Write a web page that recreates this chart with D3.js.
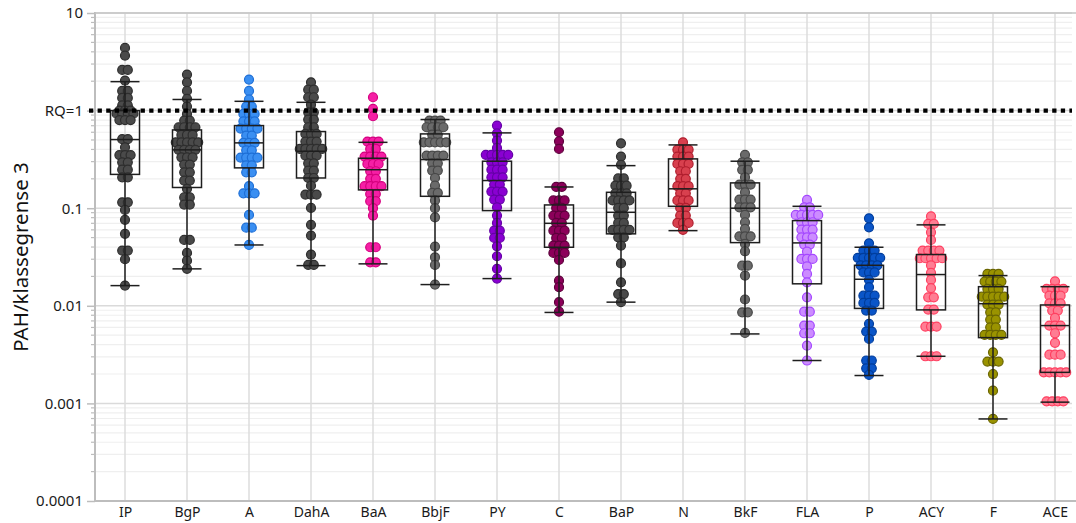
<!DOCTYPE html>
<html><head><meta charset="utf-8">
<script src="https://cdn.jsdelivr.net/npm/d3@7"></script>
<style>body{margin:0;background:#fff}svg{display:block;font-family:"Noto Sans",sans-serif}</style>
</head><body><svg id="c" width="1076" height="523"></svg>
<script>
const categories = ["IP","BgP","A","DahA","BaA","BbjF","PY","C","BaP","N","BkF","FLA","P","ACY","F","ACE"];
const tickValues = [10,1,0.1,0.01,0.001,0.0001];
const tickLabels = ["10","RQ=1","0.1","0.01","0.001","0.0001"];
const rqValue = 1;

const vIP = [4.39,3.66,2.61,2.61,2.03,1.59,1.59,1.35,1.35,1.13,1.13,1.0,1.0,1.0,0.93,0.93,0.93,0.93,0.80,0.80,0.80,0.51,0.51,0.42,0.35,0.35,0.35,0.295,0.295,0.248,0.248,0.207,0.207,0.115,0.115,0.096,0.076,0.0546,0.0368,0.0368,0.030,0.0161];
const vBgP = [2.34,1.95,1.59,1.32,1.10,0.925,0.79,0.79,0.675,0.675,0.675,0.675,0.564,0.564,0.564,0.473,0.473,0.473,0.473,0.473,0.396,0.396,0.396,0.396,0.332,0.332,0.332,0.28,0.28,0.233,0.233,0.192,0.192,0.158,0.129,0.129,0.109,0.109,0.0473,0.0473,0.0348,0.029,0.0239];
const vA = [2.08,1.59,1.30,1.10,1.10,0.925,0.925,0.925,0.777,0.777,0.777,0.654,0.654,0.654,0.654,0.555,0.555,0.467,0.467,0.467,0.392,0.392,0.33,0.33,0.33,0.33,0.275,0.275,0.233,0.233,0.168,0.142,0.142,0.142,0.0853,0.0632,0.0632,0.042];
const vDahA = [1.95,1.64,1.64,1.37,1.37,1.15,0.96,0.96,0.81,0.81,0.675,0.675,0.577,0.577,0.577,0.481,0.481,0.481,0.405,0.405,0.405,0.405,0.405,0.346,0.346,0.346,0.288,0.288,0.243,0.243,0.204,0.204,0.17,0.138,0.138,0.138,0.1006,0.0675,0.0524,0.0335,0.0262,0.0262];
const vBaA = [1.37,1.04,0.875,0.481,0.481,0.481,0.405,0.405,0.338,0.338,0.338,0.338,0.284,0.284,0.284,0.239,0.239,0.2,0.2,0.168,0.168,0.168,0.168,0.14,0.14,0.118,0.118,0.1,0.084,0.0398,0.0398,0.0279,0.0279];
const vBbjF = [0.79,0.79,0.79,0.675,0.675,0.675,0.675,0.568,0.568,0.473,0.473,0.473,0.473,0.473,0.346,0.346,0.346,0.346,0.288,0.288,0.243,0.243,0.204,0.17,0.1435,0.1435,0.12,0.1,0.0807,0.0404,0.0314,0.0262,0.0165];
const vPY = [0.702,0.585,0.493,0.415,0.352,0.352,0.352,0.352,0.352,0.295,0.295,0.295,0.248,0.248,0.248,0.207,0.207,0.207,0.1745,0.1745,0.148,0.148,0.148,0.1225,0.1225,0.102,0.084,0.0707,0.0589,0.0589,0.0496,0.0496,0.0407,0.0322,0.0239,0.019];
const vC = [0.6,0.485,0.405,0.165,0.165,0.12,0.12,0.12,0.1007,0.1007,0.084,0.084,0.084,0.0707,0.0707,0.0589,0.0589,0.0589,0.0496,0.0496,0.0414,0.0414,0.0414,0.0348,0.0348,0.0348,0.0295,0.0181,0.0155,0.0109,0.0087];
const vBaP = [0.462,0.338,0.278,0.202,0.202,0.17,0.17,0.17,0.142,0.142,0.142,0.12,0.12,0.12,0.12,0.1007,0.1007,0.084,0.084,0.0707,0.0707,0.06,0.06,0.06,0.06,0.0503,0.0503,0.0414,0.0272,0.0174,0.0132,0.0132,0.0109];
const vN = [0.473,0.398,0.398,0.398,0.338,0.338,0.338,0.284,0.284,0.284,0.239,0.239,0.2,0.2,0.168,0.168,0.168,0.142,0.142,0.12,0.12,0.12,0.1007,0.1007,0.084,0.084,0.0707,0.0707,0.0707,0.06];
const vBkF = [0.352,0.295,0.295,0.247,0.247,0.207,0.1745,0.1745,0.1745,0.1455,0.1225,0.1225,0.1225,0.102,0.102,0.102,0.0853,0.0718,0.0614,0.0515,0.0515,0.0515,0.0431,0.0362,0.0258,0.0258,0.0204,0.0116,0.00858,0.00858,0.00527];
const vFLA = [0.1216,0.102,0.102,0.0853,0.0853,0.0853,0.0853,0.0853,0.0718,0.0718,0.0718,0.0604,0.0604,0.0604,0.0503,0.0503,0.0503,0.0424,0.0424,0.0359,0.0302,0.0302,0.0302,0.0254,0.0212,0.0174,0.0122,0.0087,0.0087,0.00627,0.00627,0.00523,0.00523,0.0039,0.00275];
const vP = [0.0788,0.0637,0.0437,0.0368,0.0368,0.0368,0.031,0.031,0.031,0.031,0.031,0.026,0.026,0.026,0.026,0.022,0.022,0.022,0.0184,0.0155,0.0127,0.0127,0.0127,0.0107,0.0107,0.0107,0.00893,0.00893,0.00653,0.00544,0.00544,0.00458,0.00275,0.00275,0.00229,0.00229,0.00196];
const vACY = [0.0826,0.069,0.069,0.0566,0.0473,0.0368,0.0368,0.0368,0.0368,0.0307,0.0307,0.0307,0.0307,0.0307,0.026,0.0217,0.0184,0.0152,0.0122,0.0122,0.00914,0.00914,0.00612,0.00612,0.00612,0.00304,0.00304,0.00304];
const vF = [0.0212,0.0212,0.0212,0.0177,0.0177,0.0177,0.0177,0.0149,0.0149,0.0149,0.0124,0.0124,0.0124,0.0124,0.0124,0.0103,0.0103,0.0103,0.00858,0.00858,0.00722,0.00722,0.00602,0.00602,0.00503,0.00503,0.00503,0.00503,0.00334,0.00268,0.00268,0.00268,0.002,0.00135,0.000693];
const vACE = [0.0178,0.0149,0.0149,0.0149,0.0149,0.0127,0.0127,0.0127,0.0106,0.0106,0.0106,0.00893,0.00893,0.00751,0.00627,0.00627,0.00627,0.00523,0.00417,0.00316,0.00316,0.00316,0.00208,0.00208,0.00208,0.00208,0.00208,0.00105,0.00105,0.00105,0.00105];

// box statistics per category (same order as categories)
const q1 = [0.222,0.163,0.259,0.204,0.154,0.1324,0.0945,0.0398,0.0546,0.1046,0.0444,0.0168,0.0094,0.00908,0.00472,0.00208];
const median = [0.505,0.396,0.467,0.383,0.248,0.315,0.192,0.07,0.0908,0.158,0.1,0.0441,0.0187,0.0209,0.0105,0.00627];
const q3 = [1.0,0.634,0.702,0.61,0.325,0.577,0.303,0.108,0.1455,0.32,0.1817,0.0746,0.026,0.0335,0.0157,0.0102];
const whiskerLow = [0.0161,0.0239,0.042,0.0258,0.0269,0.0165,0.019,0.00855,0.0109,0.0589,0.00515,0.00275,0.00193,0.00304,0.000693,0.00103];
const whiskerHigh = [1.98,1.30,1.245,1.216,0.473,0.81,0.591,0.165,0.273,0.445,0.303,0.1046,0.0398,0.0675,0.0204,0.0157];

const seriesValues = [vIP,vBgP,vA,vDahA,vBaA,vBbjF,vPY,vC,vBaP,vN,vBkF,vFLA,vP,vACY,vF,vACE];

// styles
const fills = ["#4a4a4a","#4a4a4a","#3a8ff2","#4a4a4a","#f51fa5","#6a6a6a","#8a00d2","#8c005a","#4a4a4a","#d8404e","#6a6a6a","#cc8cff","#0a55c8","#ff7d93","#9a9300","#ff7d93"];
const strokes = ["#2e2e2e","#2e2e2e","#1e6fd6","#2e2e2e","#d4007f","#474747","#6400a6","#5c003b","#2e2e2e","#b01e2e","#474747","#a447ff","#003d9c","#ff3f60","#6a6500","#ff3f60"];

const W = 1076, H = 523;
const pL = 95, pR = 1072, pT = 13, pB = 501;
const svg = d3.select("#c");

const y = d3.scaleLog().domain([0.0001, 10]).range([pB, pT]);
const x = d3.scalePoint().domain(categories).range([125, 1055]);

// minor gridlines
const minors = [];
for (let e = -4; e < 1; e++) for (let m = 2; m <= 9; m++) minors.push(m * Math.pow(10, e));
svg.append("g").selectAll("line").data(minors).join("line")
  .attr("x1", pL).attr("x2", pR).attr("y1", d => y(d)).attr("y2", d => y(d))
  .attr("stroke", "#efefef").attr("stroke-width", 1.2);
// major gridlines
svg.append("g").selectAll("line").data(tickValues).join("line")
  .attr("x1", pL).attr("x2", pR).attr("y1", d => y(d)).attr("y2", d => y(d))
  .attr("stroke", "#dadada").attr("stroke-width", 1.5);
// vertical gridlines
svg.append("g").selectAll("line").data(categories).join("line")
  .attr("x1", d => x(d)).attr("x2", d => x(d)).attr("y1", pT).attr("y2", pB)
  .attr("stroke", "#dcdcdc").attr("stroke-width", 1.5);

// axes
const yAxis = d3.axisLeft(y).tickValues(tickValues).tickFormat((d, i) => tickLabels[i]).tickSize(8).tickPadding(4);
const gy = svg.append("g").attr("transform", `translate(${pL},0)`).call(yAxis);
gy.attr("font-size", 15).attr("font-family", "Noto Sans");
gy.select(".domain").attr("stroke", "#bdbdbd").attr("stroke-width", 2).attr("d", `M0,${pT-1}V${pB}`);
gy.selectAll(".tick line").attr("stroke", "#bdbdbd").attr("stroke-width", 1.5);
gy.selectAll(".tick text").attr("fill", "#1a1a1a");
// minor ticks
svg.append("g").selectAll("line").data(minors).join("line")
  .attr("x1", pL - 4).attr("x2", pL).attr("y1", d => y(d)).attr("y2", d => y(d))
  .attr("stroke", "#bdbdbd").attr("stroke-width", 1.2);

const xAxis = d3.axisBottom(x).tickSize(0).tickPadding(6);
const gx = svg.append("g").attr("transform", `translate(0,${pB})`).call(xAxis);
gx.attr("font-size", 14).attr("font-family", "Noto Sans");
gx.select(".domain").attr("stroke", "#bdbdbd").attr("stroke-width", 2).attr("d", `M${pL},0H${W}`);
gx.selectAll(".tick text").attr("fill", "#1a1a1a");

// top border
svg.append("line").attr("x1", pL).attr("x2", W).attr("y1", pT).attr("y2", pT)
  .attr("stroke", "#c4c4c4").attr("stroke-width", 1.5);

// y label
svg.append("text").attr("transform", `translate(28,${(pT + pB) / 2}) rotate(-90)`)
  .attr("text-anchor", "middle").attr("font-size", 20.5).attr("fill", "#111")
  .text("PAH/klassegrense 3");

// points (binned dot plot: equal values spread horizontally)
const spacing = 5.6, r = 4.5;
const pts = [];
seriesValues.forEach((vals, ci) => {
  const groups = d3.groups(vals, v => v);
  groups.forEach(([v, arr]) => {
    const n = arr.length;
    arr.forEach((_, k) => pts.push({ci, v, off: (k - (n - 1) / 2) * spacing}));
  });
});
svg.append("g").selectAll("circle").data(pts).join("circle")
  .attr("cx", d => x(categories[d.ci]) + d.off)
  .attr("cy", d => y(d.v))
  .attr("r", r)
  .attr("fill", d => fills[d.ci])
  .attr("stroke", d => strokes[d.ci])
  .attr("stroke-width", 1.2);

// box plots
const bw = 29;
const boxes = svg.append("g").selectAll("g").data(categories).join("g");
boxes.append("line").attr("x1", d => x(d)).attr("x2", d => x(d))
  .attr("y1", (d, i) => y(whiskerHigh[i])).attr("y2", (d, i) => y(q3[i]))
  .attr("stroke", "#1e1e1e").attr("stroke-width", 1.5);
boxes.append("line").attr("x1", d => x(d)).attr("x2", d => x(d))
  .attr("y1", (d, i) => y(q1[i])).attr("y2", (d, i) => y(whiskerLow[i]))
  .attr("stroke", "#1e1e1e").attr("stroke-width", 1.5);
boxes.append("rect").attr("x", d => x(d) - bw / 2).attr("width", bw)
  .attr("y", (d, i) => y(q3[i])).attr("height", (d, i) => y(q1[i]) - y(q3[i]))
  .attr("fill", "none").attr("stroke", "#1e1e1e").attr("stroke-width", 1.5);
boxes.append("line").attr("x1", d => x(d) - bw / 2).attr("x2", d => x(d) + bw / 2)
  .attr("y1", (d, i) => y(median[i])).attr("y2", (d, i) => y(median[i]))
  .attr("stroke", "#1e1e1e").attr("stroke-width", 1.5);
[whiskerHigh, whiskerLow].forEach(arr => {
  boxes.append("line").attr("x1", d => x(d) - bw / 2).attr("x2", d => x(d) + bw / 2)
    .attr("y1", (d, i) => y(arr[i])).attr("y2", (d, i) => y(arr[i]))
    .attr("stroke", "#1e1e1e").attr("stroke-width", 1.5);
});

// RQ=1 dotted line
svg.append("line").attr("x1", pL - 6).attr("x2", pR).attr("y1", y(rqValue)).attr("y2", y(rqValue))
  .attr("stroke", "#000").attr("stroke-width", 4.2).attr("stroke-dasharray", "4.3,4.3");
</script></body></html>
